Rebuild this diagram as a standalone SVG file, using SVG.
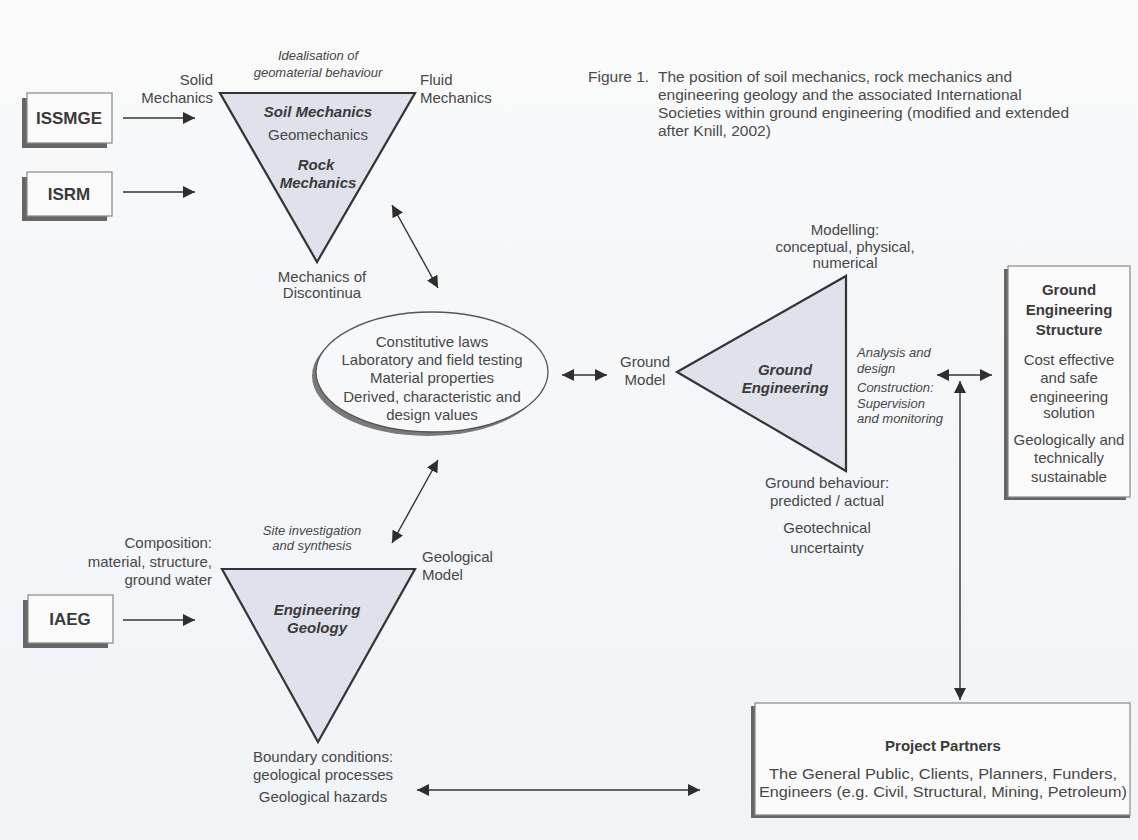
<svg xmlns="http://www.w3.org/2000/svg" width="1138" height="840" viewBox="0 0 1138 840">
<style>
text{font-family:"Liberation Sans",Arial,sans-serif;fill:#474747}
.n{font-size:15px}
.c{text-anchor:middle}
.r{text-anchor:end}
.i{font-size:13px;font-style:italic}
.bi{font-size:15px;font-style:italic;font-weight:bold;fill:#3a3a3a}
.b{font-weight:bold;fill:#3a3a3a}
.tri{fill:#dfe2ea;stroke:#333;stroke-width:2.2;stroke-linejoin:miter}
.box{fill:#fafafa;stroke:#888;stroke-width:1.2}
.shd{fill:#666}
.con{stroke:#333;stroke-width:1.4;fill:none}
.cap{font-size:15.5px;fill:#4a4a4a}
</style>
<defs>
<marker id="ah" viewBox="0 0 10 10" refX="10" refY="5" markerWidth="12" markerHeight="12" markerUnits="userSpaceOnUse" orient="auto-start-reverse">
<path d="M0,0 L10,5 L0,10 z" fill="#2e2e2e"/>
</marker>
<linearGradient id="bg" x1="0" y1="0" x2="0" y2="1">
<stop offset="0" stop-color="#fafafa"/>
<stop offset="0.33" stop-color="#f5f7f9"/>
<stop offset="1" stop-color="#f1f4f7"/>
</linearGradient>
</defs>
<rect x="0" y="0" width="1138" height="840" fill="url(#bg)"/>

<g id="caption">
<text class="cap" x="588" y="82">Figure 1.</text>
<text class="cap" x="658" y="82">The position of soil mechanics, rock mechanics and</text>
<text class="cap" x="658" y="100">engineering geology and the associated International</text>
<text class="cap" x="658" y="118">Societies within ground engineering (modified and extended</text>
<text class="cap" x="658" y="136">after Knill, 2002)</text>
</g>

<g id="issmge">
<rect class="shd" x="22" y="98" width="85" height="50"/>
<rect class="box" x="27" y="93" width="85" height="50"/>
<text class="b c" x="69" y="124" font-size="17">ISSMGE</text>
</g>
<g id="isrm">
<rect class="shd" x="22" y="177" width="85" height="44"/>
<rect class="box" x="27" y="172" width="85" height="44"/>
<text class="b c" x="69" y="200" font-size="17">ISRM</text>
</g>
<g id="iaeg">
<rect class="shd" x="23" y="600" width="85" height="48"/>
<rect class="box" x="28" y="595" width="85" height="48"/>
<text class="b c" x="70" y="625" font-size="17">IAEG</text>
</g>

<g id="soil-mechanics">
<polygon class="tri" points="220,93 415,93 317,262"/>
<text class="i c" x="318" y="59.5">Idealisation of</text>
<text class="i c" x="318" y="76.5">geomaterial behaviour</text>
<text class="n r" x="213" y="85">Solid</text>
<text class="n r" x="213" y="103">Mechanics</text>
<text class="n" x="420" y="85">Fluid</text>
<text class="n" x="420" y="103">Mechanics</text>
<text class="bi c" x="318" y="117">Soil Mechanics</text>
<text class="n c" x="318" y="140">Geomechanics</text>
<text class="bi c" x="316" y="170">Rock</text>
<text class="bi c" x="318" y="188">Mechanics</text>
<text class="n c" x="322" y="282">Mechanics of</text>
<text class="n c" x="322" y="298">Discontinua</text>
</g>

<g id="laws">
<ellipse cx="428" cy="376" rx="116" ry="60" fill="#7a7a7a"/>
<ellipse cx="432" cy="372" rx="116" ry="60" fill="#f7f8fa" stroke="#555" stroke-width="1.3"/>
<text class="n c" x="432" y="347">Constitutive laws</text>
<text class="n c" x="432" y="365">Laboratory and field testing</text>
<text class="n c" x="432" y="383">Material properties</text>
<text class="n c" x="432" y="402">Derived, characteristic and</text>
<text class="n c" x="432" y="420">design values</text>
</g>

<g id="ground-model">
<text class="n c" x="645" y="367">Ground</text>
<text class="n c" x="645" y="385">Model</text>
</g>

<g id="ground-engineering">
<polygon class="tri" points="677,372 846,276 846,471"/>
<text class="bi c" x="785" y="375">Ground</text>
<text class="bi c" x="785" y="393">Engineering</text>
<text class="n c" x="845" y="235">Modelling:</text>
<text class="n c" x="845" y="252">conceptual, physical,</text>
<text class="n c" x="845" y="268">numerical</text>
<text class="i" x="857" y="357">Analysis and</text>
<text class="i" x="857" y="373">design</text>
<text class="i" x="857" y="392">Construction:</text>
<text class="i" x="857" y="408">Supervision</text>
<text class="i" x="857" y="423">and monitoring</text>
<text class="n c" x="827" y="488">Ground behaviour:</text>
<text class="n c" x="827" y="506">predicted / actual</text>
<text class="n c" x="827" y="533">Geotechnical</text>
<text class="n c" x="827" y="553">uncertainty</text>
</g>

<g id="structure">
<rect class="shd" x="1004" y="269" width="122" height="231"/>
<rect class="box" x="1008" y="266" width="122" height="231"/>
<text class="n b c" x="1069" y="295">Ground</text>
<text class="n b c" x="1069" y="315">Engineering</text>
<text class="n b c" x="1069" y="335">Structure</text>
<text class="n c" x="1069" y="365">Cost effective</text>
<text class="n c" x="1069" y="383">and safe</text>
<text class="n c" x="1069" y="402">engineering</text>
<text class="n c" x="1069" y="418">solution</text>
<text class="n c" x="1069" y="445">Geologically and</text>
<text class="n c" x="1069" y="463">technically</text>
<text class="n c" x="1069" y="482">sustainable</text>
</g>

<g id="engineering-geology">
<polygon class="tri" points="222,569 415,569 318,742"/>
<text class="i c" x="312" y="534.5">Site investigation</text>
<text class="i c" x="312" y="549.5">and synthesis</text>
<text class="n r" x="212" y="548">Composition:</text>
<text class="n r" x="212" y="567">material, structure,</text>
<text class="n r" x="212" y="585">ground water</text>
<text class="bi c" x="317" y="615">Engineering</text>
<text class="bi c" x="317" y="633">Geology</text>
<text class="n" x="422" y="562">Geological</text>
<text class="n" x="422" y="580">Model</text>
<text class="n c" x="323" y="762">Boundary conditions:</text>
<text class="n c" x="323" y="780">geological processes</text>
<text class="n c" x="323" y="802">Geological hazards</text>
</g>

<g id="project-partners">
<rect class="shd" x="751" y="706" width="379" height="112"/>
<rect class="box" x="755" y="703" width="375" height="112"/>
<text class="n b c" x="943" y="751">Project Partners</text>
<text class="c" x="943" y="779" font-size="14" textLength="348" lengthAdjust="spacingAndGlyphs">The General Public, Clients, Planners, Funders,</text>
<text class="c" x="943" y="797" font-size="14" textLength="368" lengthAdjust="spacingAndGlyphs">Engineers (e.g. Civil, Structural, Mining, Petroleum)</text>
</g>

<g id="connectors">
<line class="con" x1="123" y1="118" x2="195" y2="118" marker-end="url(#ah)"/>
<line class="con" x1="123" y1="192" x2="195" y2="192" marker-end="url(#ah)"/>
<line class="con" x1="123" y1="620" x2="195" y2="620" marker-end="url(#ah)"/>
<line class="con" x1="392" y1="205" x2="438" y2="288" marker-start="url(#ah)" marker-end="url(#ah)"/>
<line class="con" x1="438" y1="460" x2="392" y2="543" marker-start="url(#ah)" marker-end="url(#ah)"/>
<line class="con" x1="562" y1="375" x2="607" y2="375" marker-start="url(#ah)" marker-end="url(#ah)"/>
<line class="con" x1="937" y1="375" x2="992" y2="375" marker-start="url(#ah)" marker-end="url(#ah)"/>
<line class="con" x1="960" y1="381" x2="960" y2="700" marker-start="url(#ah)" marker-end="url(#ah)"/>
<line class="con" x1="417" y1="790" x2="700" y2="790" marker-start="url(#ah)" marker-end="url(#ah)"/>
</g>
</svg>
